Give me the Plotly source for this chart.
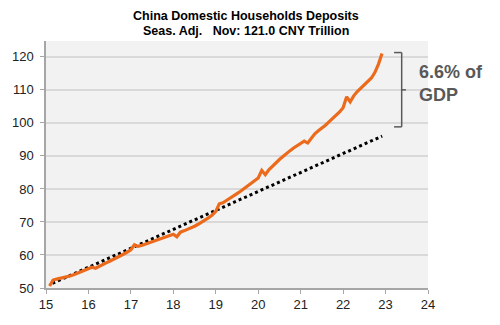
import plotly.graph_objects as go

# Monthly data, Jan 2015 .. Nov 2022 (CNY trillion, seas. adj.)
start_year = 15
values_2015 = [50.6, 52.4, 52.7, 52.9, 53.1, 53.4, 53.7, 54.1, 54.5, 54.9, 55.3, 55.7]
values_2016 = [56.3, 56.0, 56.6, 57.1, 57.6, 58.1, 58.6, 59.1, 59.7, 60.3, 60.9, 61.6]
values_2017 = [63.1, 62.6, 62.9, 63.3, 63.7, 64.1, 64.5, 64.9, 65.3, 65.6, 65.9, 66.3]
values_2018 = [65.5, 66.9, 67.3, 67.7, 68.2, 68.7, 69.3, 69.9, 70.6, 71.3, 72.1, 73.2]
values_2019 = [75.5, 75.8, 76.5, 77.3, 77.9, 78.6, 79.3, 80.1, 80.9, 81.8, 82.6, 83.3]
values_2020 = [85.6, 84.3, 85.8, 86.9, 87.8, 88.9, 89.8, 90.8, 91.6, 92.4, 93.1, 93.9]
values_2021 = [94.5, 93.9, 95.5, 96.7, 97.6, 98.4, 99.3, 100.3, 101.2, 102.3, 103.3, 104.6]
values_2022 = [107.9, 106.4, 108.2, 109.5, 110.6, 111.6, 112.6, 113.6, 115.3, 117.8, 121.0]

# Pre-trend line endpoints
trend_x = [15.15, 22.92]
trend_y = [51.4, 96.0]

x_ticks = [15, 16, 17, 18, 19, 20, 21, 22, 23, 24]
y_ticks = [50, 60, 70, 80, 90, 100, 110, 120]

deposits = (values_2015 + values_2016 + values_2017 + values_2018 +
            values_2019 + values_2020 + values_2021 + values_2022)
months_x = [start_year + (i + 1) / 12 for i in range(len(deposits))]

FONT = "Liberation Sans, Arial, sans-serif"
GRAY = "#595959"
W, H = 500, 325
ML, MR, MT, MB = 44, 72, 41, 37


def px_x(p):
    return (p - ML) / (W - ML - MR)


def px_y(p):
    return (H - MB - p) / (H - MT - MB)


fig = go.Figure()
fig.add_trace(go.Scatter(x=trend_x, y=trend_y, mode="lines",
                         line=dict(color="black", width=3, dash="dot"),
                         hoverinfo="skip"))
fig.add_trace(go.Scatter(x=months_x, y=deposits, mode="lines",
                         line=dict(color="#ec6a1c", width=3.2)))

# bracket
bx0, bx1, bx2 = 23.2, 23.38, 23.48
ytop, ybot, ymid = 121.3, 98.8, 110.0
for x0, y0, x1, y1 in [(bx0, ytop, bx1, ytop), (bx1, ytop, bx1, ybot),
                       (bx0, ybot, bx1, ybot), (bx1, ymid, bx2, ymid)]:
    fig.add_shape(type="line", x0=x0, y0=y0, x1=x1, y1=y1, xref="x", yref="y",
                  line=dict(color=GRAY, width=1.5), layer="above")

fig.add_annotation(x=px_x(417), y=px_y(83), xref="paper", yref="paper",
                   text="<b>6.6% of<br>GDP</b>", showarrow=False,
                   xanchor="left", yanchor="middle", align="left",
                   font=dict(family=FONT, size=18, color=GRAY))

fig.add_annotation(x=px_x(245), y=px_y(16), xref="paper", yref="paper",
                   text="<b>China Domestic Households Deposits</b>", showarrow=False,
                   xanchor="center", yanchor="middle",
                   font=dict(family=FONT, size=12.5, color="black"))
fig.add_annotation(x=px_x(245), y=px_y(31), xref="paper", yref="paper",
                   text="<b>Seas. Adj.   Nov: 121.0 CNY Trillion</b>", showarrow=False,
                   xanchor="center", yanchor="middle",
                   font=dict(family=FONT, size=12.5, color="black"))

fig.update_layout(
    width=W, height=H,
    margin=dict(l=ML, r=MR, t=MT, b=MB),
    paper_bgcolor="white", plot_bgcolor="#f2f2f2",
    showlegend=False,
    font=dict(family=FONT, size=13, color="#222222"),
)
fig.update_xaxes(range=[15, 24], tickvals=x_ticks, showgrid=False,
                 showline=True, linecolor="#a6a6a6", linewidth=1.5,
                 ticks="outside", ticklen=4, tickcolor="#a6a6a6",
                 zeroline=False, tickfont=dict(size=13, color="#222222"))
fig.update_yaxes(range=[50, 124.8], tickvals=y_ticks, showgrid=True,
                 gridcolor="#d9d9d9", gridwidth=1.5,
                 showline=True, linecolor="#a6a6a6", linewidth=1.5,
                 ticks="outside", ticklen=4, tickcolor="#a6a6a6",
                 zeroline=False, ticklabelstandoff=4,
                 tickfont=dict(size=13, color="#222222"))

fig.write_html("out.html")
